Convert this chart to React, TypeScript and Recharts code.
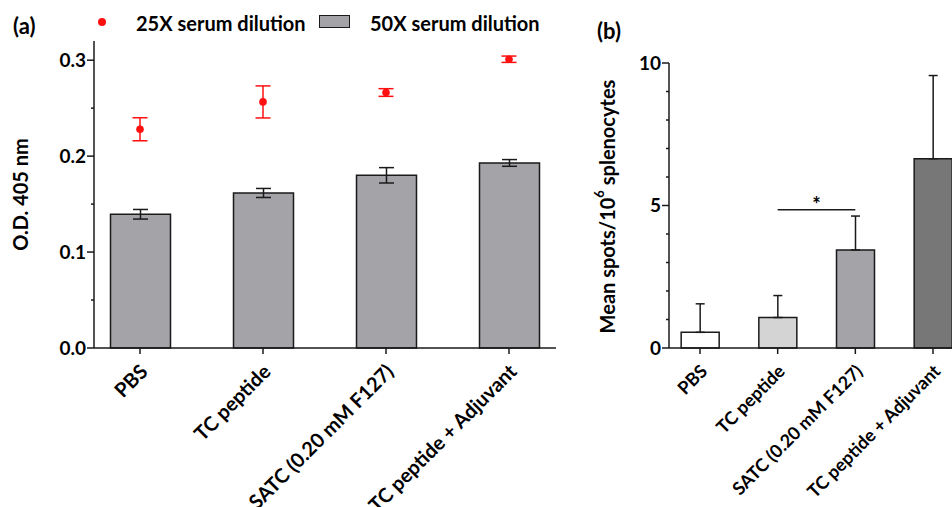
import React from "react";
import { ComposedChart, BarChart, Bar, Line, XAxis, YAxis, ErrorBar, Legend, Cell, ReferenceLine } from "recharts";

const categories = ["PBS", "TC peptide", "SATC (0.20 mM F127)", "TC peptide + Adjuvant"];

// panel (a): ELISA O.D. 405 nm
const od25 = [0.228, 0.2565, 0.2663, 0.301];
const od25Err = [0.012, 0.0167, 0.004, 0.0033];
const od50 = [0.1394, 0.1616, 0.18, 0.1929];
const od50Err = [0.005, 0.0047, 0.008, 0.0035];
const odTicks = [0, 0.05, 0.1, 0.15, 0.2, 0.25, 0.3];

// panel (b): ELISpot
const spots = [0.55, 1.07, 3.44, 6.64];
const spotsErr = [1.0, 0.77, 1.19, 2.92];
const spotFills = ["#ffffff", "#d4d4d4", "#a3a3a8", "#777777"];
const spotTicks = [0, 1, 2, 3, 4, 5, 6, 7, 8, 9, 10];

const seriesNames = ["25X serum dilution", "50X serum dilution"];

const dataA = categories.map((name, i) => ({
  name,
  od25: od25[i],
  od25Err: od25Err[i],
  od50: od50[i],
  od50Err: od50Err[i],
}));

const dataB = categories.map((name, i) => ({
  name,
  spots: spots[i],
  spotsErr: [0, spotsErr[i]],
}));

const FONT = "Lato, 'Open Sans', sans-serif";
const INK = "#1a1a1a";
const BAR_GREY = "#a3a3a8";
const RED = "#ff1010";

const makeYTick = (isMajor: (v: number) => boolean, fmt: (v: number) => string) => (props: any) => {
  const { x, y, payload } = props;
  const axisX = x + 8;
  const major = isMajor(payload.value);
  return (
    <g>
      <line x1={axisX - (major ? 7 : 3)} x2={axisX} y1={y} y2={y} stroke={INK} strokeWidth={1.5} />
      {major && (
        <text x={axisX - 8} y={y} dy="0.36em" textAnchor="end" fontSize={19} fontWeight={700} fill="#000" fontFamily={FONT}>
          {fmt(payload.value)}
        </text>
      )}
    </g>
  );
};

const makeXTick = (fontSize: number) => (props: any) => {
  const { x, y, payload } = props;
  return (
    <g transform={`translate(${x + 4},${y + 12})`}>
      <text x={0} y={0} dy="0.35em" textAnchor="end" transform="rotate(-45)" fontSize={fontSize} fontWeight={700} fill="#000" fontFamily={FONT}>
        {payload.value}
      </text>
    </g>
  );
};

const renderLegend = () => (
  <div style={{ position: "relative", width: 566, height: 40, fontFamily: FONT, fontWeight: 700, fontSize: 20, color: "#000" }}>
    <span style={{ position: "absolute", left: 98, top: 17.5, width: 8, height: 8, borderRadius: 4, background: RED }} />
    <span style={{ position: "absolute", left: 136, top: 10, lineHeight: "26px", whiteSpace: "nowrap" }}>{seriesNames[0]}</span>
    <span style={{ position: "absolute", left: 319, top: 14.5, width: 29, height: 11, background: BAR_GREY, border: `1.5px solid ${INK}` }} />
    <span style={{ position: "absolute", left: 370, top: 10, lineHeight: "26px", whiteSpace: "nowrap" }}>{seriesNames[1]}</span>
  </div>
);

const panelLabel = (text: string, left: number, top: number) => (
  <div style={{ position: "absolute", left, top, fontFamily: FONT, fontWeight: 700, fontSize: 22, lineHeight: "26px", color: "#000" }}>
    {text}
  </div>
);

export default function App() {
  return (
    <div style={{ position: "absolute", left: 0, top: 0, width: 952, height: 507, overflow: "hidden", background: "#fff" }}>
      {panelLabel("(a)", 13, 13)}
      {panelLabel("(b)", 597, 18)}

      <div style={{ position: "absolute", left: 0, top: 0 }}>
        <ComposedChart width={566} height={507} data={dataA} margin={{ top: 41, right: 10, bottom: 0, left: 0 }}>
          <XAxis
            dataKey="name"
            scale="point"
            padding={{ left: 46, right: 47 }}
            height={159}
            interval={0}
            axisLine={{ stroke: INK, strokeWidth: 1.5 }}
            tickLine={{ stroke: INK, strokeWidth: 1.5 }}
            tickSize={6}
            tick={makeXTick(20)}
          />
          <YAxis
            width={94}
            domain={[0, 0.32]}
            ticks={odTicks}
            interval={0}
            axisLine={{ stroke: INK, strokeWidth: 1.5 }}
            tickLine={false}
            tickSize={6}
            tickMargin={2}
            tick={makeYTick((v) => Math.round(v * 100) % 10 === 0, (v) => v.toFixed(1))}
            label={{
              content: ({ viewBox }: any) => (
                <text
                  x={20}
                  y={viewBox.y + viewBox.height / 2}
                  transform={`rotate(-90, 20, ${viewBox.y + viewBox.height / 2})`}
                  textAnchor="middle"
                  dominantBaseline="central"
                  fontSize={20}
                  fontWeight={700}
                  fill="#000"
                  fontFamily={FONT}
                >
                  O.D. 405 nm
                </text>
              ),
            }}
          />
          <Legend
            layout="horizontal"
            verticalAlign="middle"
            align="center"
            content={renderLegend}
            wrapperStyle={{ position: "absolute", left: 0, top: 0, width: 566, height: 40 }}
          />
          <Bar dataKey="od50" name={seriesNames[1]} fill={BAR_GREY} stroke={INK} strokeWidth={1.5} barSize={60} isAnimationActive={false}>
            <ErrorBar dataKey="od50Err" width={7.5} stroke={INK} strokeWidth={1.5} direction="y" />
          </Bar>
          <Line
            dataKey="od25"
            name={seriesNames[0]}
            stroke="none"
            dot={{ r: 3.8, fill: RED, stroke: "none" }}
            activeDot={false}
            isAnimationActive={false}
          >
            <ErrorBar dataKey="od25Err" width={7.5} stroke={RED} strokeWidth={1.5} direction="y" />
          </Line>
        </ComposedChart>
      </div>

      <div style={{ position: "absolute", left: 580, top: 0 }}>
        <BarChart width={395} height={507} data={dataB} margin={{ top: 63, right: 11, bottom: 0, left: 0 }}>
          <XAxis
            dataKey="name"
            scale="point"
            padding={{ left: 31, right: 31 }}
            height={159}
            interval={0}
            axisLine={{ stroke: INK, strokeWidth: 1.5 }}
            tickLine={{ stroke: INK, strokeWidth: 1.5 }}
            tickSize={6}
            tick={makeXTick(18)}
          />
          <YAxis
            width={89}
            domain={[0, 10]}
            ticks={spotTicks}
            interval={0}
            axisLine={{ stroke: INK, strokeWidth: 1.5 }}
            tickLine={false}
            tickSize={6}
            tickMargin={2}
            tick={makeYTick((v) => v % 5 === 0, (v) => String(v))}
            label={{
              content: ({ viewBox }: any) => {
                const cy = viewBox.y + viewBox.height / 2 + 1;
                return (
                  <text
                    x={27}
                    y={cy}
                    transform={`rotate(-90, 27, ${cy})`}
                    textAnchor="middle"
                    dominantBaseline="central"
                    fontSize={20}
                    fontWeight={700}
                    fill="#000"
                    fontFamily={FONT}
                  >
                    <tspan>Mean spots/10</tspan>
                    <tspan dy={-8} fontSize={13}>6</tspan>
                    <tspan dy={8}> splenocytes</tspan>
                  </text>
                );
              },
            }}
          />
          <Bar dataKey="spots" stroke={INK} strokeWidth={1.5} barSize={38} isAnimationActive={false}>
            {dataB.map((d, i) => (
              <Cell key={d.name} fill={spotFills[i]} />
            ))}
            <ErrorBar dataKey="spotsErr" width={4.5} stroke={INK} strokeWidth={1.5} direction="y" />
          </Bar>
          <ReferenceLine
            segment={[
              { x: categories[1], y: 4.85 },
              { x: categories[2], y: 4.85 },
            ]}
            stroke={INK}
            strokeWidth={1.5}
            label={{ value: "*", position: "top", offset: -2.5, fontSize: 20, fontWeight: 700, fill: "#000", fontFamily: FONT }}
          />
        </BarChart>
      </div>
    </div>
  );
}
